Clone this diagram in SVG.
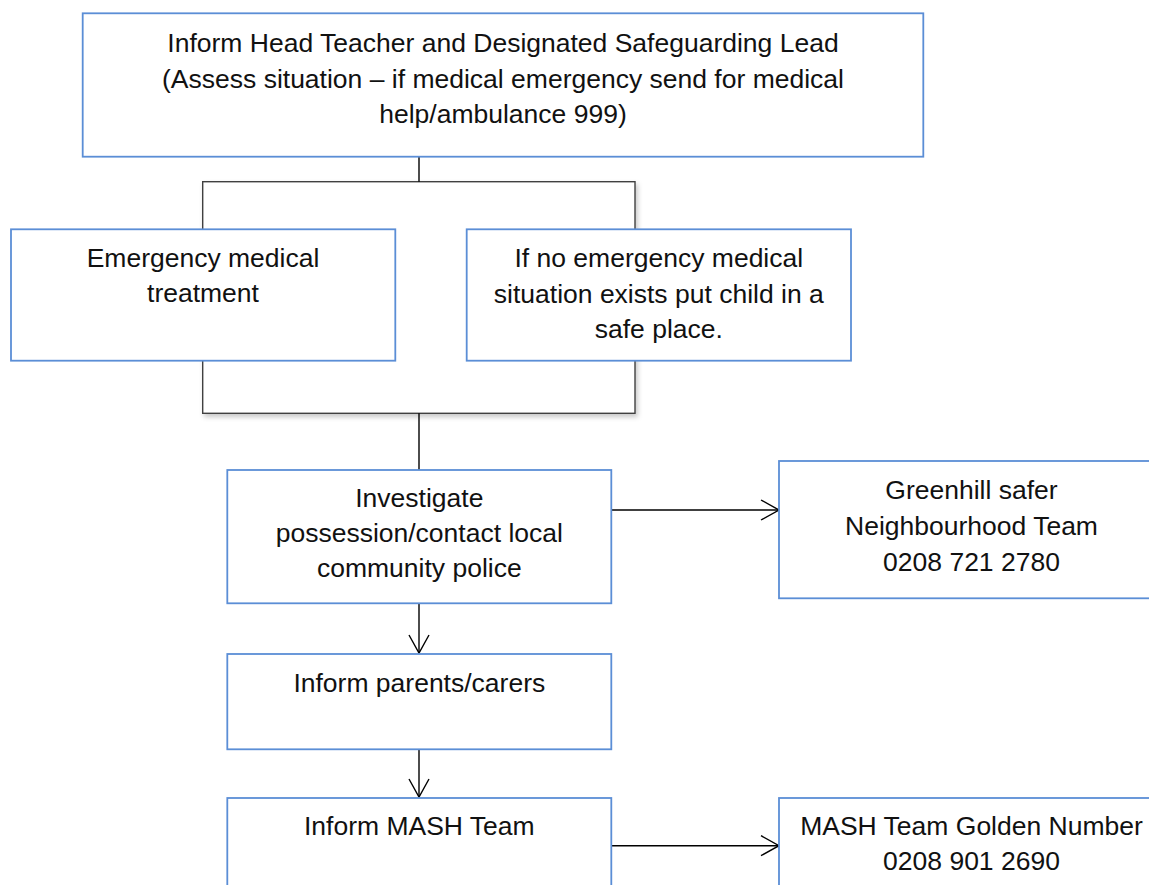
<svg xmlns="http://www.w3.org/2000/svg" width="1149" height="885" viewBox="0 0 1149 885">
<style>
.box{fill:#ffffff;stroke:#5B8ED6;stroke-width:1.8}
.lbl{font-family:"Liberation Sans",Arial,sans-serif;font-size:26.5px;fill:#111111;text-anchor:middle}
.con{stroke:#000000;stroke-width:1.4;fill:none}
.brk{fill:#ffffff;stroke:#404040;stroke-width:1.4}
</style>
<defs>
<marker id="arr" markerUnits="userSpaceOnUse" markerWidth="22" markerHeight="24" refX="19" refY="11" orient="auto">
<path d="M1,1 L19,11 L1,21" fill="none" stroke="#000000" stroke-width="1.4"/>
</marker>
<filter id="sh" x="-5%" y="-5%" width="115%" height="115%">
<feDropShadow dx="2" dy="3" stdDeviation="2.5" flood-color="#000000" flood-opacity="0.22"/>
</filter>
</defs>
<rect width="1149" height="885" fill="#ffffff"/>
<g id="connectors">
<rect class="brk" x="202.7" y="181.7" width="432.3" height="231.6" filter="url(#sh)"/>
<line class="con" x1="419" y1="157" x2="419" y2="181.7"/>
<line class="con" x1="419" y1="413.3" x2="419" y2="470"/>
<line class="con" x1="611.3" y1="510" x2="779" y2="510" marker-end="url(#arr)"/>
<line class="con" x1="419" y1="603.3" x2="419" y2="653" marker-end="url(#arr)"/>
<line class="con" x1="419" y1="749.3" x2="419" y2="797" marker-end="url(#arr)"/>
<line class="con" x1="611.3" y1="845.7" x2="779" y2="845.7" marker-end="url(#arr)"/>
</g>
<g id="n_head">
<rect class="box" x="82.7" y="13.3" width="840.6" height="143.4"/>
<text class="lbl" x="503" y="52">Inform Head Teacher and Designated Safeguarding Lead</text>
<text class="lbl" x="503" y="87.5">(Assess situation – if medical emergency send for medical</text>
<text class="lbl" x="503" y="123">help/ambulance 999)</text>
</g>
<g id="n_emergency">
<rect class="box" x="11" y="229.3" width="384.3" height="131.4"/>
<text class="lbl" x="203" y="266.7">Emergency medical</text>
<text class="lbl" x="203" y="301.7">treatment</text>
</g>
<g id="n_noemergency">
<rect class="box" x="466.7" y="229.3" width="384.3" height="131.4"/>
<text class="lbl" x="658.8" y="267">If no emergency medical</text>
<text class="lbl" x="658.8" y="302.7">situation exists put child in a</text>
<text class="lbl" x="658.8" y="338">safe place.</text>
</g>
<g id="n_investigate">
<rect class="box" x="227.3" y="470" width="384" height="133.3"/>
<text class="lbl" x="419.3" y="506.7">Investigate</text>
<text class="lbl" x="419.3" y="541.7">possession/contact local</text>
<text class="lbl" x="419.3" y="577.3">community police</text>
</g>
<g id="n_greenhill">
<rect class="box" x="779" y="461" width="385" height="137.3"/>
<text class="lbl" x="971.5" y="499.3">Greenhill safer</text>
<text class="lbl" x="971.5" y="535">Neighbourhood Team</text>
<text class="lbl" x="971.5" y="570.7">0208 721 2780</text>
</g>
<g id="n_parents">
<rect class="box" x="227.3" y="654" width="384" height="95.3"/>
<text class="lbl" x="419.3" y="691.7">Inform parents/carers</text>
</g>
<g id="n_mash">
<rect class="box" x="227.3" y="798" width="384" height="100"/>
<text class="lbl" x="419.3" y="835">Inform MASH Team</text>
</g>
<g id="n_golden">
<rect class="box" x="779" y="798" width="385" height="100"/>
<text class="lbl" x="971.5" y="835">MASH Team Golden Number</text>
<text class="lbl" x="971.5" y="870">0208 901 2690</text>
</g>
</svg>
